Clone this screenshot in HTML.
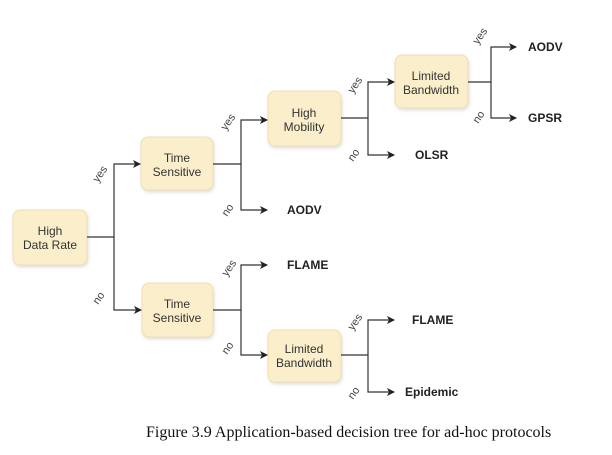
<!DOCTYPE html>
<html><head><style>
body{margin:0;background:#fff;}
</style></head><body>
<svg width="612" height="450" viewBox="0 0 612 450" xmlns="http://www.w3.org/2000/svg" font-family="Liberation Sans, Arial, sans-serif">
<defs>
<marker id="a" markerWidth="8" markerHeight="8" refX="7" refY="4" orient="auto" markerUnits="userSpaceOnUse">
<path d="M0,0 L8,4 L0,8 L2,4 z" fill="#222"/></marker>
<filter id="s" x="-10%" y="-10%" width="130%" height="130%"><feDropShadow dx="1" dy="2" stdDeviation="1.5" flood-color="#ccc" flood-opacity="0.6"/></filter>
</defs>
<g fill="#fbeecb" stroke="#f1dfae" stroke-width="1" filter="url(#s)">
<rect x="13" y="210" width="74" height="55" rx="7"/>
<rect x="141" y="137" width="72" height="53" rx="7"/>
<rect x="142" y="283" width="71" height="54" rx="7"/>
<rect x="268" y="91" width="73" height="55" rx="7"/>
<rect x="395" y="55" width="73" height="53" rx="7"/>
<rect x="268" y="330" width="73" height="52" rx="7"/>
</g>
<g fill="none" stroke="#333" stroke-width="1.2">
<path d="M87,237 H114 V164 H140" marker-end="url(#a)"/>
<path d="M114,237 V310 H141" marker-end="url(#a)"/>
<path d="M213,164 H241 V120 H267" marker-end="url(#a)"/>
<path d="M241,164 V210 H267" marker-end="url(#a)"/>
<path d="M341,118 H368 V82 H394" marker-end="url(#a)"/>
<path d="M368,118 V155 H394" marker-end="url(#a)"/>
<path d="M468,82 H491 V47 H516" marker-end="url(#a)"/>
<path d="M491,82 V118 H516" marker-end="url(#a)"/>
<path d="M213,310 H241 V265 H267" marker-end="url(#a)"/>
<path d="M241,310 V355 H267" marker-end="url(#a)"/>
<path d="M341,355 H368 V320 H394" marker-end="url(#a)"/>
<path d="M368,355 V392 H394" marker-end="url(#a)"/>
</g>
<g font-size="12" fill="#333" text-anchor="middle">
<text x="50" y="235">High</text><text x="50" y="249">Data Rate</text>
<text x="177" y="162">Time</text><text x="177" y="176">Sensitive</text>
<text x="177" y="308">Time</text><text x="177" y="322">Sensitive</text>
<text x="304" y="117">High</text><text x="304" y="131">Mobility</text>
<text x="431" y="80">Limited</text><text x="431" y="94">Bandwidth</text>
<text x="304" y="353">Limited</text><text x="304" y="367">Bandwidth</text>
</g>
<g font-size="12" font-weight="bold" fill="#222">
<text x="528" y="51">AODV</text>
<text x="528" y="122">GPSR</text>
<text x="415" y="159">OLSR</text>
<text x="287" y="214">AODV</text>
<text x="287" y="269">FLAME</text>
<text x="412" y="324">FLAME</text>
<text x="405" y="396">Epidemic</text>
</g>
<g font-size="11" fill="#444">
<text transform="translate(98,183) rotate(-55)">yes</text>
<text transform="translate(98,305) rotate(-55)">no</text>
<text transform="translate(226,131) rotate(-55)">yes</text>
<text transform="translate(227,217) rotate(-55)">no</text>
<text transform="translate(227,277) rotate(-55)">yes</text>
<text transform="translate(227,355) rotate(-55)">no</text>
<text transform="translate(353,94) rotate(-55)">yes</text>
<text transform="translate(353,162) rotate(-55)">no</text>
<text transform="translate(353,331) rotate(-55)">yes</text>
<text transform="translate(353,400) rotate(-55)">no</text>
<text transform="translate(478,45) rotate(-55)">yes</text>
<text transform="translate(478,124) rotate(-55)">no</text>
</g>
<text x="146" y="437" style="font-family:'Liberation Serif',serif;font-size:16px" fill="#111">Figure 3.9 Application-based decision tree for ad-hoc protocols</text>
</svg>
</body></html>
